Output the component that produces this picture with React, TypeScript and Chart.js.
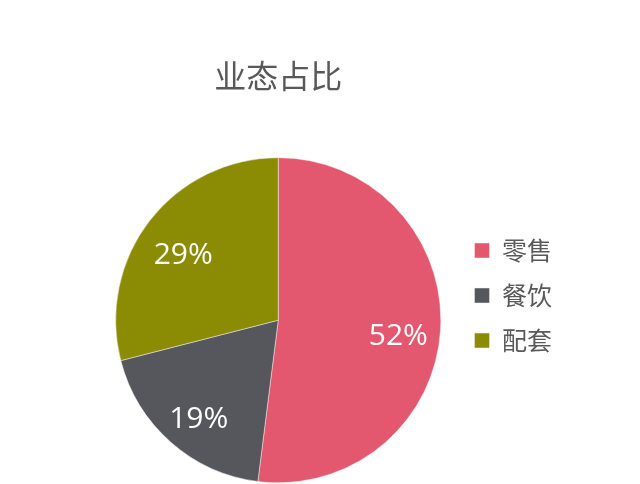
import { useEffect, useRef } from "react"
import { Chart, registerables } from "chart.js"

Chart.register(...registerables)

const categories = ["零售", "餐饮", "配套"]
const shares = [52, 19, 29]
const sliceColors = ["#E3576F", "#55575C", "#8C8C04"]
const chartTitle = "业态占比"

// percentage labels drawn inside each slice
const sliceLabels = {
  id: "sliceLabels",
  afterDatasetsDraw(chart: Chart) {
    const ctx = chart.ctx
    const meta = chart.getDatasetMeta(0)
    const size = 30
    ctx.save()
    ctx.fillStyle = "#ffffff"
    ctx.font = size + "px 'Open Sans', 'Noto Sans', sans-serif"
    ctx.textAlign = "center"
    ctx.textBaseline = "middle"
    meta.data.forEach((arc: any, i) => {
      const { x, y, startAngle, endAngle, outerRadius } = arc.getProps(
        ["x", "y", "startAngle", "endAngle", "outerRadius"],
        true
      )
      const mid = (startAngle + endAngle) / 2
      const r = outerRadius * 0.74
      ctx.fillText(shares[i] + "%", x + Math.cos(mid) * r, y + Math.sin(mid) * r + size * 0.3)
    })
    ctx.restore()
  },
}

// the legend sits a little above the pie's vertical centre
const legendShift = {
  id: "legendShift",
  afterLayout(chart: Chart) {
    const lg: any = chart.legend
    if (!lg) return
    lg.top += 54
    lg.bottom += 54
  },
}

export default function App() {
  const chartRef = useRef<HTMLCanvasElement>(null)
  const chartInstance = useRef<Chart | null>(null)

  useEffect(() => {
    if (!chartRef.current) return
    if (chartInstance.current) chartInstance.current.destroy()

    chartInstance.current = new Chart(chartRef.current, {
      type: "pie",
      data: {
        labels: categories,
        datasets: [
          {
            data: shares,
            backgroundColor: sliceColors,
            borderColor: "#f4f0ee",
            borderWidth: 0.5,
          },
        ],
      },
      options: {
        responsive: true,
        maintainAspectRatio: false,
        animation: false,
        layout: {
          padding: { left: 102, right: 78, top: 0, bottom: 1 },
        },
        plugins: {
          title: {
            display: true,
            text: chartTitle,
            fullSize: false,
            color: "#595959",
            font: { size: 32, family: "'Noto Sans CJK SC', sans-serif", weight: "normal" },
            padding: { top: 57, bottom: 62 },
          },
          legend: {
            position: "right",
            align: "center",
            labels: {
              boxWidth: 15,
              boxHeight: 15,
              padding: 20,
              color: "#595959",
              font: { size: 25, family: "'Noto Sans CJK SC', sans-serif" },
            },
          },
          tooltip: { enabled: false },
        },
      },
      plugins: [sliceLabels, legendShift],
    })

    return () => {
      if (chartInstance.current) {
        chartInstance.current.destroy()
        chartInstance.current = null
      }
    }
  }, [])

  return (
    <div style={{ position: "fixed", left: 0, top: 0, width: 640, height: 484, background: "#fff" }}>
      <canvas ref={chartRef} />
    </div>
  )
}
